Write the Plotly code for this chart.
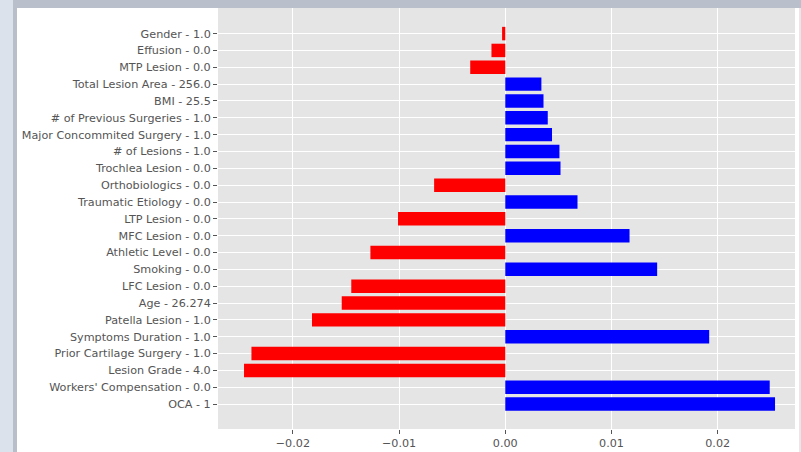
import plotly.graph_objects as go

features = [
    "OCA - 1",
    "Workers' Compensation - 0.0",
    "Lesion Grade - 4.0",
    "Prior Cartilage Surgery - 1.0",
    "Symptoms Duration - 1.0",
    "Patella Lesion - 1.0",
    "Age - 26.274",
    "LFC Lesion - 0.0",
    "Smoking - 0.0",
    "Athletic Level - 0.0",
    "MFC Lesion - 0.0",
    "LTP Lesion - 0.0",
    "Traumatic Etiology - 0.0",
    "Orthobiologics - 0.0",
    "Trochlea Lesion - 0.0",
    "# of Lesions - 1.0",
    "Major Concommited Surgery - 1.0",
    "# of Previous Surgeries - 1.0",
    "BMI - 25.5",
    "Total Lesion Area - 256.0",
    "MTP Lesion - 0.0",
    "Effusion - 0.0",
    "Gender - 1.0",
]
weights = [
    0.0254, 0.0249, -0.0246, -0.0239, 0.0192, -0.0182, -0.0154, -0.0145,
    0.0143, -0.0127, 0.0117, -0.0101, 0.0068, -0.0067, 0.0052, 0.0051,
    0.0044, 0.0040, 0.0036, 0.0034, -0.0033, -0.0013, -0.0003,
]
x_ticks = [-0.02, -0.01, 0.0, 0.01, 0.02]

colors = ["#0000ff" if w > 0 else "#ff0000" for w in weights]
idx = list(range(len(features)))

fig = go.Figure(go.Bar(
    x=weights, y=idx, orientation="h",
    marker=dict(color=colors, line=dict(width=0)),
    width=0.8,
))

# plot area in pixels: left 218, right 795, top 8, bottom 429
L, R, T, B = 218, 795, 8, 429
def px(xp):
    return (xp - L) / (R - L)
def py(yp):
    return (B - yp) / (B - T)

# screenshot shadow frame (left strip and top band, outside plot area)
fig.add_shape(type="rect", xref="paper", yref="paper",
              x0=px(0), x1=px(13), y0=py(452), y1=py(0),
              fillcolor="#dbe2ec", line=dict(width=0), layer="below")
fig.add_shape(type="rect", xref="paper", yref="paper",
              x0=px(13), x1=px(17), y0=py(452), y1=py(0),
              fillcolor="#b8bfca", line=dict(width=0), layer="below")
fig.add_shape(type="rect", xref="paper", yref="paper",
              x0=px(13), x1=px(801), y0=py(8), y1=py(0),
              fillcolor="#b9c0cc", line=dict(width=0), layer="below")
fig.add_shape(type="rect", xref="paper", yref="paper",
              x0=px(799), x1=px(801), y0=py(452), y1=py(8),
              fillcolor="#e6e8ec", line=dict(width=0), layer="below")

fig.update_layout(
    width=801, height=452,
    margin=dict(l=L, r=801 - R, t=T, b=452 - B),
    paper_bgcolor="white",
    plot_bgcolor="#e5e5e5",
    font=dict(family="DejaVu Sans", size=11.2, color="#555555"),
    showlegend=False,
)
fig.update_xaxes(
    range=[-0.02705, 0.02728],
    tickvals=x_ticks, tickformat=".2f",
    showgrid=True, gridcolor="white", gridwidth=1,
    zeroline=False, ticks="outside", ticklen=4, tickcolor="#555555",
    showline=False, automargin=False,
)
fig.update_yaxes(
    range=[-1.48, 23.52],
    tickvals=idx, ticktext=features,
    showgrid=True, gridcolor="white", gridwidth=1,
    zeroline=False, ticks="outside", ticklen=4, tickcolor="#555555",
    showline=False, automargin=False,
)

fig.write_html("out.html", config={"displayModeBar": False},
               post_script="document.body.style.margin='0';")
